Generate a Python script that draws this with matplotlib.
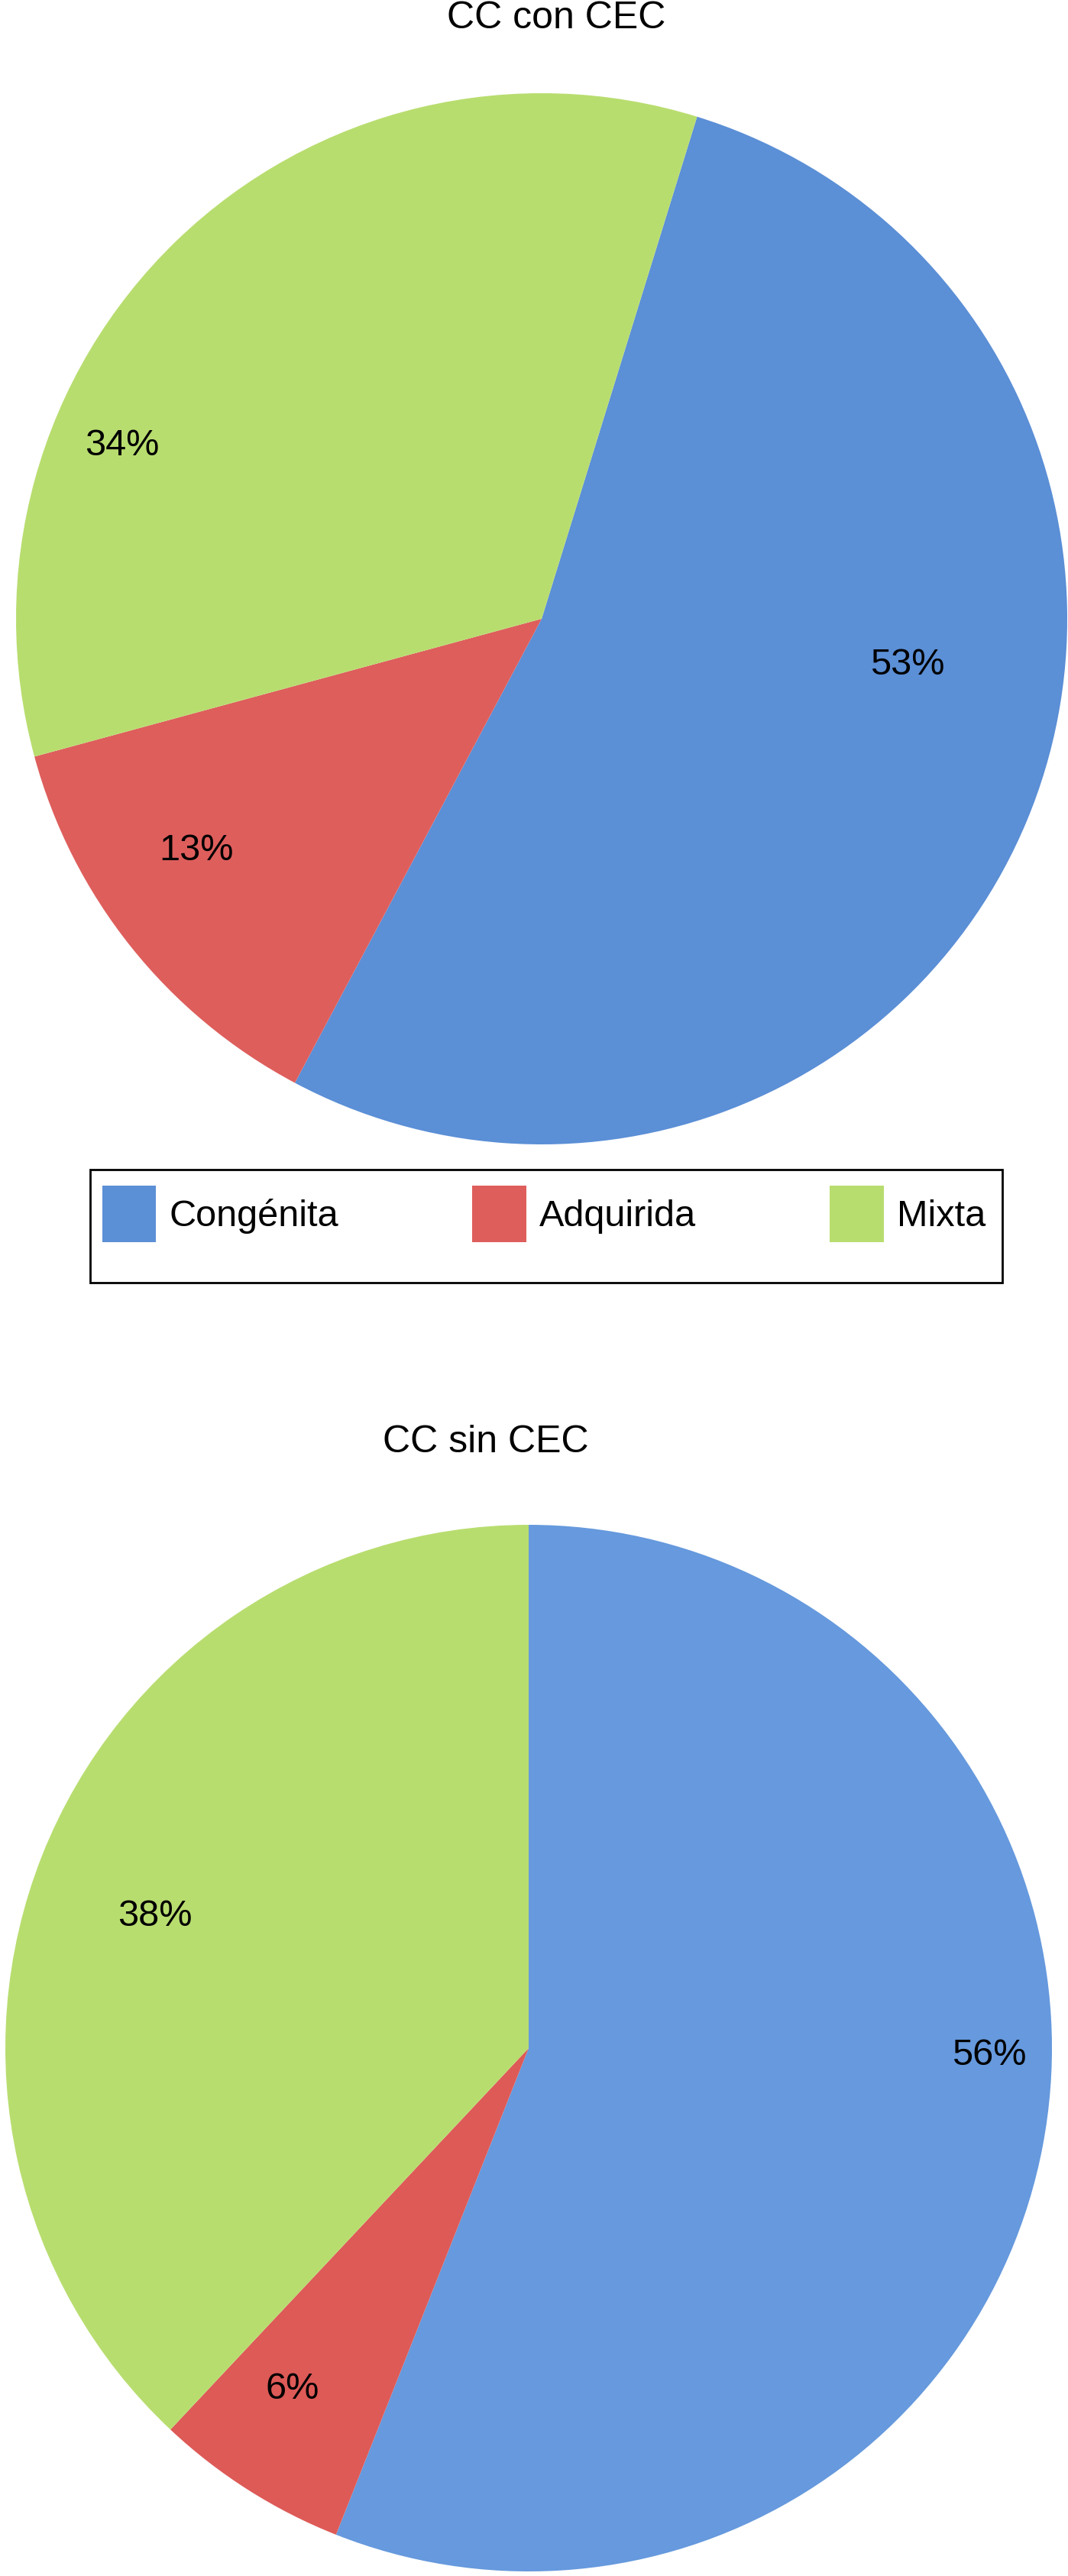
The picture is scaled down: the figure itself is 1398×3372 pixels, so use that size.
import matplotlib

matplotlib.use("Agg")
import matplotlib.pyplot as plt
from matplotlib.patches import Patch, Rectangle

plt.rcParams["font.family"] = ["Liberation Sans", "DejaVu Sans"]

categories = ["Congénita", "Adquirida", "Mixta"]
con_cec_pct = [53, 13, 34]
sin_cec_pct = [56, 6, 38]
titles = ["CC con CEC", "CC sin CEC"]

colors_top = ["#5B8FD6", "#DE5E5C", "#B8DD6F"]
colors_bottom = ["#6699DD", "#DD5A57", "#B8DD6F"]

# label positions in units of the pie radius (Excel "best fit" placement)
label_pos_top = [(0.696, -0.086), (-0.657, -0.439), (-0.798, 0.331)]
label_pos_bottom = [(0.880, -0.012), (-0.451, -0.650), (-0.714, 0.254)]

W, H = 1398, 3373
FS = 35


def px_box(x0, y0, x1, y1):
    return [x0 / W, 1 - y1 / H, (x1 - x0) / W, (y1 - y0) / H]


def draw_pie(ax, values, colors, start, label_pos):
    wedges, _ = ax.pie(
        values,
        colors=colors,
        startangle=start,
        counterclock=False,
        radius=1.0,
        wedgeprops=dict(linewidth=0),
    )
    for value, (x, y) in zip(values, label_pos):
        ax.text(x, y, f"{value}%", ha="center", va="center", fontsize=FS)
    ax.set_xlim(-1, 1)
    ax.set_ylim(-1, 1)
    ax.set_aspect("equal")
    ax.axis("off")
    return wedges


fig = plt.figure(figsize=(W / 100, H / 100), dpi=100)

ax_top = fig.add_axes(px_box(21, 123, 1397, 1499))
draw_pie(ax_top, con_cec_pct, colors_top, 90 - 17.2, label_pos_top)

ax_bot = fig.add_axes(px_box(7, 1997, 1377, 3367))
draw_pie(ax_bot, sin_cec_pct, colors_bottom, 90, label_pos_bottom)

fig.text(728 / W, 1 - 24 / H, titles[0], ha="center", va="center", fontsize=36)
fig.text(636 / W, 1 - 1888 / H, titles[1], ha="center", va="center", fontsize=36)

# legend frame
x0, y0, x1, y1 = 118, 1532, 1312, 1680
fig.patches.append(
    Rectangle((x0 / W, 1 - y1 / H), (x1 - x0) / W, (y1 - y0) / H,
              transform=fig.transFigure, fill=False, edgecolor="black", linewidth=2)
)
handles = [Patch(facecolor=c, edgecolor="none") for c in colors_top]
fig.legend(
    handles,
    categories,
    loc="center",
    bbox_to_anchor=(712 / W, 1 - 1590 / H),
    ncol=3,
    frameon=False,
    fontsize=FS,
    handlelength=1.45,
    handleheight=1.95,
    handletextpad=0.36,
    columnspacing=3.6,
    borderpad=0,
)

fig.savefig("out.png", dpi=100)
plt.close(fig)
